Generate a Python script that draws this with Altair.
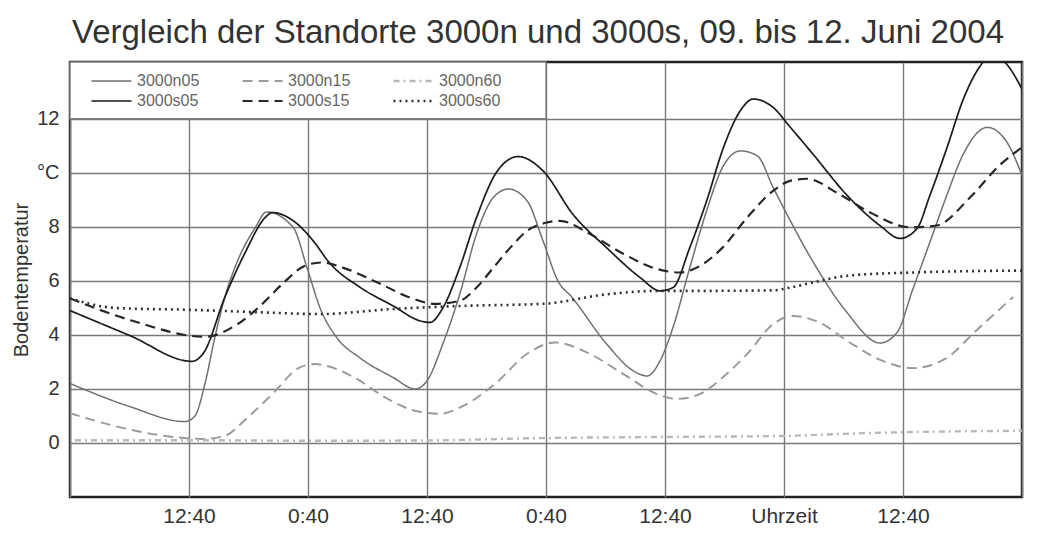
import altair as alt
import pandas as pd

# legend order is column-major in Vega: (n05,s05) (n15,s15) (n60,s60)
series = ["3000n05", "3000s05", "3000n15", "3000s15", "3000n60", "3000s60"]

n05_h = [0, 6, 11.6, 12.6, 13.6, 14.6, 15.6, 16.9, 18.7, 19.8, 22.5, 23.9, 25.2, 26.9, 29.2, 32.6, 34.8, 36.0, 37.6, 39.3,
         41.0, 42.7, 44.2, 46.1, 47.7, 49.2, 50.6, 54.1, 56.8, 58.2, 59.5, 60.8, 62.5, 64.2, 65.8, 67.6, 69.3, 70.9, 72.1, 75.1,
         78.2, 81.7, 83.4, 85.0, 86.7, 88.4, 90.0, 92.5, 94.5, 96]
n05_t = [2.2, 1.35, 0.79, 1.0, 2.18, 3.9, 5.38, 6.74, 7.98, 8.55, 7.98, 6.49, 5.01, 3.9, 3.16, 2.42, 2.0, 2.3, 3.67, 5.5,
         7.74, 9.09, 9.4, 8.96, 7.48, 6.0, 5.4, 3.67, 2.67, 2.48, 3.04, 4.27, 6.49, 8.6, 10.2, 10.81, 10.63, 9.46, 8.6, 6.6,
         4.9, 3.7, 4.09, 5.7, 7.42, 9.15, 10.63, 11.68, 11.12, 9.9]

s05_h = [0, 6, 12.3, 13.5, 15.6, 17.6, 19.7, 20.4, 22.6, 24.7, 26.0, 29.3, 32.6, 35.3, 36.3, 37.6, 39.3, 41.0, 43.1, 45.2,
         47.7, 50.7, 54.1, 57.5, 59.5, 60.8, 62.5, 64.2, 65.9, 67.6, 68.9, 70.9, 72.6, 74.9, 78.4, 81.7, 83.7, 85.4, 86.7, 88.4,
         90.1, 91.8, 93.0, 94.5, 96]
s05_t = [4.9, 3.98, 3.02, 3.35, 5.38, 7.0, 8.35, 8.53, 8.2, 7.4, 6.74, 5.75, 5.07, 4.52, 4.46, 5.0, 6.49, 8.35, 10.07, 10.6,
         10.07, 8.47, 7.23, 6.12, 5.63, 5.75, 7.23, 8.96, 10.94, 12.3, 12.73, 12.42, 11.7, 10.7, 9.15, 8.04, 7.57, 7.93, 9.15, 10.89,
         12.74, 13.96, 14.4, 14.0, 13.1]

s15_h = [0, 6.3, 13.6, 16.9, 19.0, 21.4, 23.7, 25.4, 27.5, 31.0, 34.3, 36.8, 39.3, 41.0, 42.7, 44.4, 46.1, 48.1, 49.4, 52.4,
         55.8, 59.2, 61.5, 63.2, 65.8, 68.3, 70.9, 72.6, 74.3, 77.6, 81.0, 84.7, 87.4, 90.8, 93.8, 96]
s15_t = [5.35, 4.52, 3.93, 4.4, 5.01, 5.88, 6.56, 6.68, 6.49, 5.94, 5.38, 5.15, 5.26, 5.75, 6.49, 7.23, 7.85, 8.16, 8.22, 7.74,
         7.0, 6.44, 6.31, 6.49, 7.23, 8.35, 9.33, 9.7, 9.78, 9.2, 8.47, 7.98, 8.05, 9.1, 10.3, 10.94]

n15_h = [0, 4.5, 9.6, 13.4, 15.6, 17.9, 20.4, 23.2, 24.7, 25.9, 28.7, 31.8, 34.8, 37.3, 39.8, 42.9, 46.1, 48.9, 52.4, 55.8,
         59.2, 61.2, 63.5, 65.8, 68.3, 70.9, 72.9, 75.6, 78.7, 82.2, 85.0, 88.2, 91.5, 95.1]
n15_t = [1.1, 0.63, 0.26, 0.15, 0.26, 0.94, 1.81, 2.8, 2.92, 2.85, 2.42, 1.68, 1.19, 1.08, 1.4, 2.2, 3.3, 3.72, 3.3, 2.55,
         1.81, 1.63, 1.81, 2.42, 3.3, 4.4, 4.7, 4.45, 3.7, 3.0, 2.77, 3.1, 4.2, 5.4]

s60_h = [0, 4.5, 12.9, 19.7, 25.2, 32.6, 39.3, 47.7, 54.1, 59.2, 64.2, 70.9, 72.6, 74.9, 78.4, 85.0, 96]
s60_t = [5.35, 5.0, 4.92, 4.83, 4.77, 4.96, 5.07, 5.15, 5.5, 5.63, 5.63, 5.65, 5.75, 5.94, 6.19, 6.31, 6.38]

n60_h = [0.5, 13.1, 25.2, 37.3, 47.4, 59.5, 71.6, 81.7, 96]
n60_t = [0.1, 0.1, 0.08, 0.1, 0.18, 0.22, 0.26, 0.38, 0.45]

x_tick_hours = [0, 12, 24, 36, 48, 60, 72, 84, 96]
x_tick_labels = ["", "12:40", "0:40", "12:40", "0:40", "12:40", "Uhrzeit", "12:40", ""]
y_tick_values = [0, 2, 4, 6, 8, 10, 12]
y_tick_labels = ["0", "2", "4", "6", "8", "°C", "12"]

# white legend panel, spanning the grid cell above 12 °C in the first two days
legend_box_hours = [0, 48]
legend_box_temp = [12, 14.1]

rows = []
for name, hs, ts in [("3000n05", n05_h, n05_t), ("3000n15", n15_h, n15_t), ("3000n60", n60_h, n60_t),
                     ("3000s05", s05_h, s05_t), ("3000s15", s15_h, s15_t), ("3000s60", s60_h, s60_t)]:
    for h, t in zip(hs, ts):
        rows.append({"Serie": name, "Stunde": h, "Temp": t})
df = pd.DataFrame(rows)

box_df = pd.DataFrame({"Stunde": [legend_box_hours[0]], "Stunde2": [legend_box_hours[1]],
                       "Temp": [legend_box_temp[0]], "Temp2": [legend_box_temp[1]]})

colors = ["#707070", "#1c1c1c", "#9a9a9a", "#262626", "#b8b8b8", "#303030"]
dashes = [[1, 0], [1, 0], [10, 6], [10, 6], [6, 4, 2, 4], [2, 4]]
widths = [1.5, 2.6, 1.6, 2.6, 1.6, 2.8]

x_expr = "[" + ",".join("'" + s + "'" for s in x_tick_labels) + "][round(datum.value/12)]"
y_expr = "[" + ",".join("'" + s + "'" for s in y_tick_labels) + "][round(datum.value/2)]"

FONT = "Liberation Sans"
GRID = "#7a7a7a"

x_scale = alt.Scale(domain=[0, 96], nice=False, zero=False)
y_scale = alt.Scale(domain=[-2, 14.1], nice=False, zero=False)
x_axis = alt.Axis(values=x_tick_hours, labelExpr=x_expr, title=None, ticks=False, domain=False,
                  labelFontSize=21, labelFont=FONT, labelColor="#333", labelPadding=8,
                  grid=True, gridColor=GRID, gridWidth=1.4)
y_axis = alt.Axis(values=y_tick_values, labelExpr=y_expr, title="Bodentemperatur", ticks=False,
                  domain=False, labelFontSize=20, labelFont=FONT, labelColor="#333", labelPadding=11,
                  titleFont=FONT, titleFontSize=20, titleFontWeight="normal", titleColor="#333",
                  titlePadding=5, grid=True, gridColor=GRID, gridWidth=1.4)

leg = alt.Legend(
    title=None, orient="none", legendX=20, legendY=9, columns=3,
    symbolType="stroke", symbolSize=1600, labelFontSize=16, labelFont=FONT,
    labelColor="#666", padding=0, rowPadding=0, columnPadding=41, labelOffset=4,
    clipHeight=20,
)

box = alt.Chart(box_df).mark_rect(fill="white", stroke=GRID, strokeWidth=1.4).encode(
    x=alt.X("Stunde:Q", scale=x_scale, axis=x_axis),
    x2="Stunde2:Q",
    y=alt.Y("Temp:Q", scale=y_scale, axis=y_axis),
    y2="Temp2:Q",
)

lines = alt.Chart(df).mark_line(interpolate="monotone", clip=True).encode(
    x=alt.X("Stunde:Q", scale=x_scale, axis=x_axis),
    y=alt.Y("Temp:Q", scale=y_scale, axis=y_axis),
    color=alt.Color("Serie:N", scale=alt.Scale(domain=series, range=colors), legend=leg),
    strokeDash=alt.StrokeDash("Serie:N", scale=alt.Scale(domain=series, range=dashes), legend=leg),
    strokeWidth=alt.StrokeWidth("Serie:N", scale=alt.Scale(domain=series, range=widths), legend=leg),
)

chart = alt.layer(box, lines).properties(
    width=952, height=435,
    title=alt.TitleParams(text="Vergleich der Standorte 3000n und 3000s, 09. bis 12. Juni 2004",
                          fontSize=33, font=FONT, fontWeight="normal", color="#333",
                          anchor="middle", baseline="alphabetic", offset=22, dy=37, dx=-8),
    autosize=alt.AutoSizeParams(type="none"),
    padding={"left": 62, "top": 54, "right": 12, "bottom": 30},
).configure_view(stroke="#222", strokeWidth=2.5)

chart.save("out.html", embed_options={"renderer": "svg", "actions": False})
